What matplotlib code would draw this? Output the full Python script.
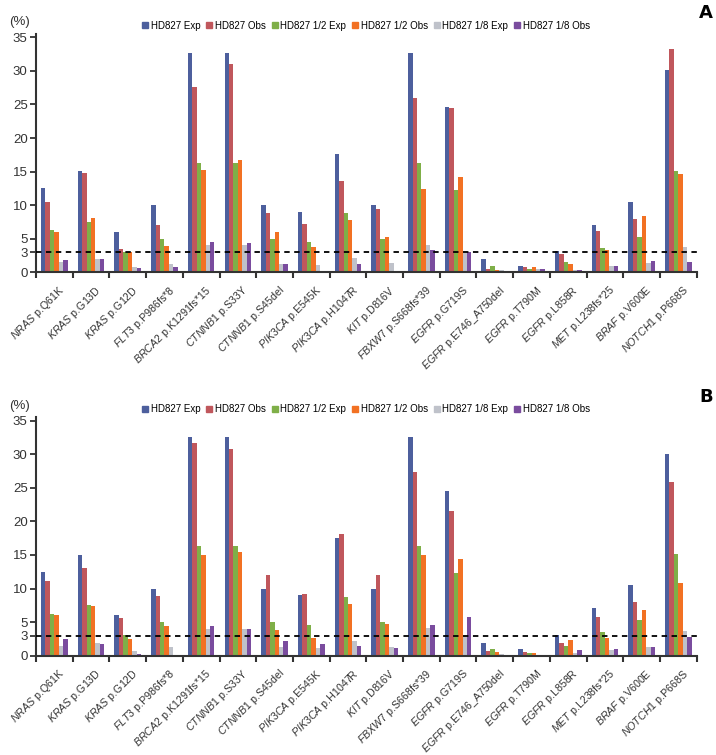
import numpy as np
import matplotlib
matplotlib.use("Agg")
from matplotlib import pyplot as plt
from matplotlib.lines import Line2D

plt.rcParams['font.family'] = ['Liberation Sans', 'DejaVu Sans']
plt.rcParams['mathtext.fontset'] = 'custom'
plt.rcParams['mathtext.it'] = 'Liberation Sans:italic'
plt.rcParams['mathtext.rm'] = 'Liberation Sans'

# gene / variant labels
genes = ['NRAS', 'KRAS', 'KRAS', 'FLT3', 'BRCA2', 'CTNNB1', 'CTNNB1', 'PIK3CA', 'PIK3CA',
         'KIT', 'FBXW7', 'EGFR', 'EGFR', 'EGFR', 'EGFR', 'MET', 'BRAF', 'NOTCH1']
variants = ['p.Q61K', 'p.G13D', 'p.G12D', 'p.P986fs*8', 'p.K1291fs*15', 'p.S33Y', 'p.S45del',
            'p.E545K', 'p.H1047R', 'p.D816V', 'p.S668fs*39', 'p.G719S', 'p.E746_A750del',
            'p.T790M', 'p.L858R', 'p.L238fs*25', 'p.V600E', 'p.P668S']

series = ['HD827 Exp', 'HD827 Obs', 'HD827 1/2 Exp', 'HD827 1/2 Obs', 'HD827 1/8 Exp', 'HD827 1/8 Obs']
colors = ['#4d5f9d', '#c0575c', '#7faf48', '#f27123', '#bfc2ca', '#7a4c9e']

# panel A
a_exp    = [12.5, 15.1, 6.0, 10.0, 32.6, 32.6, 10.0, 9.05, 17.6, 10.0, 32.6, 24.6, 2.0, 1.0, 3.1, 7.05, 10.5, 30.1]
a_obs    = [10.5, 14.8, 3.4, 7.05, 27.6, 31.0, 8.85, 7.2, 13.6, 9.45, 25.9, 24.5, 0.5, 0.8, 2.8, 6.15, 7.95, 33.3]
a_h_exp  = [6.25, 7.55, 3.05, 5.0, 16.3, 16.3, 5.0, 4.5, 8.85, 5.0, 16.3, 12.3, 1.0, 0.5, 1.5, 3.6, 5.3, 15.1]
a_h_obs  = [6.0, 8.1, 2.95, 3.9, 15.25, 16.7, 6.05, 3.7, 7.8, 5.25, 12.4, 14.2, 0.35, 0.75, 1.25, 3.3, 8.35, 14.7]
a_e_exp  = [1.55, 1.95, 0.8, 1.3, 4.05, 4.05, 1.3, 1.15, 2.2, 1.35, 4.05, 3.15, 0.35, 0.5, 0.4, 0.9, 1.4, 3.8]
a_e_obs  = [1.85, 2.05, 0.7, 0.85, 4.45, 4.35, 1.3, 0.0, 1.25, 0.0, 3.3, 3.0, 0.0, 0.5, 0.3, 0.9, 1.7, 1.55]

# panel B
b_exp    = [12.5, 15.0, 6.0, 10.0, 32.6, 32.6, 10.0, 9.0, 17.6, 10.0, 32.6, 24.6, 1.95, 0.95, 3.1, 7.1, 10.5, 30.1]
b_obs    = [11.2, 13.1, 5.6, 8.85, 31.7, 30.8, 11.95, 9.2, 18.1, 12.0, 27.3, 21.5, 0.65, 0.55, 1.85, 5.7, 8.05, 25.8]
b_h_exp  = [6.2, 7.55, 3.05, 4.95, 16.3, 16.3, 5.0, 4.5, 8.8, 4.95, 16.3, 12.3, 0.95, 0.45, 1.45, 3.55, 5.3, 15.1]
b_h_obs  = [6.05, 7.35, 2.5, 4.35, 14.95, 15.5, 3.8, 2.65, 7.7, 4.65, 15.0, 14.35, 0.5, 0.35, 2.35, 2.7, 6.75, 10.9]
b_e_exp  = [1.5, 1.9, 0.75, 1.3, 4.0, 4.0, 1.3, 1.1, 2.2, 1.3, 4.1, 3.1, 0.25, 0.15, 0.35, 0.85, 1.35, 3.7]
b_e_obs  = [2.5, 1.8, 0.25, 0.0, 4.4, 4.0, 2.15, 1.8, 1.5, 1.1, 4.6, 5.7, 0.0, 0.0, 0.85, 0.95, 1.3, 2.8]

yticks = [0, 3, 5, 10, 15, 20, 25, 30, 35]
cutoff = 3

labels = [r'$\mathit{%s}$ %s' % (g, v) for g, v in zip(genes, variants)]

fig = plt.figure(figsize=(7.16, 7.55), dpi=100)
W, H = 716, 755


def panel(top_px, values, letter):
    # axes spans 0..35.57 over 238.8 px
    bottom_px = top_px + 238.8
    ax = fig.add_axes([36 / W, 1 - bottom_px / H, 660.7 / W, 238.8 / H])
    n = len(genes)
    x = np.arange(n)
    bw = 0.121
    for i, (vals, c) in enumerate(zip(values, colors)):
        ax.bar(x + (i - 2.5) * bw, vals, bw, color=c, label=series[i], linewidth=0)
    ax.axhline(cutoff, color='black', ls=(0, (3, 2.5)), lw=1.3, zorder=5)
    ax.set_xlim(-0.5, n - 0.5)
    ax.set_ylim(0, 35.57)
    ax.set_yticks(yticks)
    ax.set_yticklabels([str(t) for t in yticks], fontsize=9.5, color='#333333')
    ax.set_xticks(x + 0.1)
    ax.set_xticklabels(labels, rotation=45, ha='right', rotation_mode='anchor',
                       fontsize=7.7, color='#333333')
    ax.set_xticks(np.arange(n + 1) - 0.5, minor=True)
    ax.tick_params(axis='x', which='major', length=0, pad=8)
    ax.tick_params(axis='x', which='minor', length=4, width=1.5, color='#333333')
    ax.tick_params(axis='y', length=4, width=1.3, color='#333333', pad=2)
    for s in ['top', 'right']:
        ax.spines[s].set_visible(False)
    for s in ['left', 'bottom']:
        ax.spines[s].set_linewidth(1.5)
        ax.spines[s].set_color('#333333')

    handles = [Line2D([], [], marker='s', ls='', color=c, markersize=4) for c in colors]
    ax.legend(handles, series, loc='center', bbox_to_anchor=(0.5, 1.032), ncol=6,
              frameon=False, fontsize=7, handlelength=0.5, handletextpad=0.3,
              columnspacing=0.7, borderpad=0)
    fig.text(20 / W, 1 - (top_px - 11) / H, '(%)', fontsize=9.5, ha='center', va='center',
             color='#333333')
    fig.text(706 / W, 1 - (top_px - 20) / H, letter, fontsize=13, fontweight='bold',
             ha='center', va='center', family='DejaVu Sans')
    return ax


panel(33.5, [a_exp, a_obs, a_h_exp, a_h_obs, a_e_exp, a_e_obs], 'A')
panel(416.9, [b_exp, b_obs, b_h_exp, b_h_obs, b_e_exp, b_e_obs], 'B')

fig.savefig('out.png', dpi=100)
